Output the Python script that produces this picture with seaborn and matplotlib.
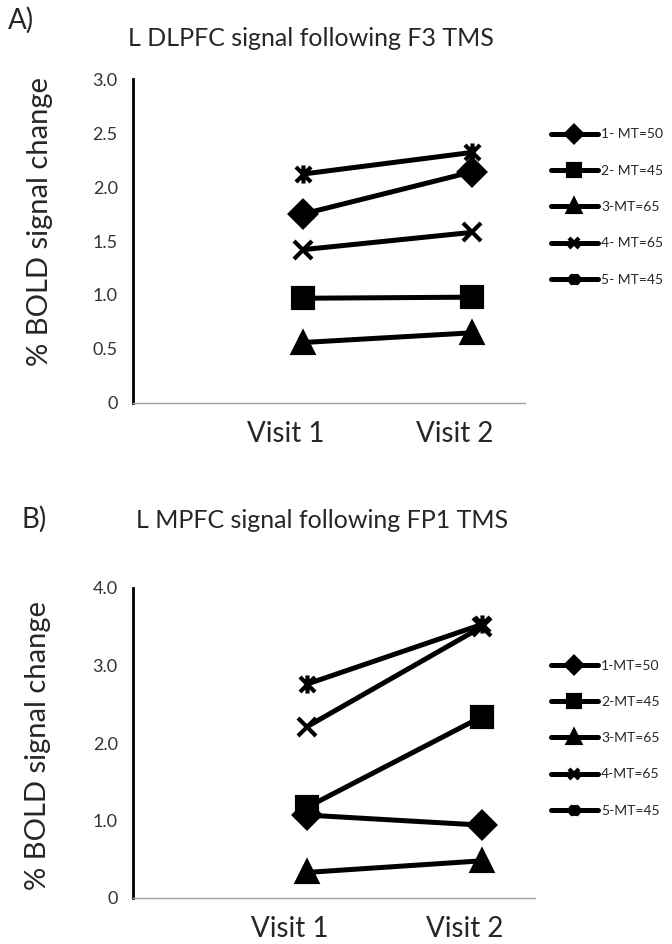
import numpy as np
import pandas as pd
import matplotlib.pyplot as plt
import seaborn as sns
from matplotlib.path import Path

# values
visits = ["Visit 1", "Visit 2"]
subjects_a = ["1- MT=50", "2- MT=45", "3-MT=65", "4- MT=65", "5- MT=45"]
subjects_b = ["1-MT=50", "2-MT=45", "3-MT=65", "4-MT=65", "5-MT=45"]
dlpfc_v1 = [1.75, 0.97, 0.56, 1.42, 2.12]
dlpfc_v2 = [2.14, 0.98, 0.65, 1.58, 2.32]
mpfc_v1 = [1.07, 1.17, 0.33, 2.21, 2.76]
mpfc_v2 = [0.94, 2.34, 0.48, 3.50, 3.53]

# Excel style "star": an x with a vertical bar through it
star = Path([(-1, -1), (1, 1), (-1, 1), (1, -1), (0, -1.2), (0, 1.2)],
            [Path.MOVETO, Path.LINETO, Path.MOVETO, Path.LINETO, Path.MOVETO, Path.LINETO])
markers = ["D", "s", "^", "x", star]
msizes = [13, 15, 15, 13, 13]

sns.set_style("white")
plt.rcParams["font.family"] = ["Lato", "DejaVu Sans"]


def long_df(subjects, v1, v2):
    rows = []
    for s, a, b in zip(subjects, v1, v2):
        rows.append({"visit": visits[0], "subject": s, "value": a})
        rows.append({"visit": visits[1], "subject": s, "value": b})
    return pd.DataFrame(rows)


def panel(fig, rect, xlim, df, subjects, ymax, yticks, ylabels, leg_top):
    ax = fig.add_axes(rect)
    sns.lineplot(data=df, x="visit", y="value", hue="subject",
                 hue_order=subjects, palette=["black"] * 5, marker="o",
                 linewidth=3.6, errorbar=None, legend=False, ax=ax)
    # seaborn won't mix filled and line-art markers, so set them per line
    for line, m, ms in zip(ax.lines, markers, msizes):
        line.set_marker(m)
        line.set_markersize(ms)
        line.set_markeredgecolor("black")
        line.set_markerfacecolor("black")
        line.set_markeredgewidth(3)
        line.set_color("black")
    ax.set_ylim(0, ymax)
    ax.set_yticks(yticks, ylabels)
    ax.tick_params(axis="y", length=0, labelsize=13, pad=11, colors="#333333")
    x0, x1 = xlim
    ax.set_xlim(x0, x1)
    ax.set_xticks(np.linspace(x0, x1, 6), [""] * 6)
    ax.set_xticks([-0.1, 0.9], visits, minor=True)
    ax.tick_params(axis="x", which="major", length=4, width=1, color="#a0a0a0", direction="out")
    ax.tick_params(axis="x", which="minor", length=0, labelsize=20, pad=13)
    ax.set_xlabel("")
    ax.set_ylabel("")
    for side in ["top", "right"]:
        ax.spines[side].set_visible(False)
    ax.spines["left"].set_color("black")
    ax.spines["left"].set_linewidth(2)
    ax.spines["bottom"].set_color("#a0a0a0")
    ax.spines["bottom"].set_linewidth(1)
    ax.legend(ax.lines[:5], subjects, markerscale=0.6, frameon=False,
              loc="upper left", bbox_to_anchor=(538 / 672, 1 - leg_top / 944),
              bbox_transform=fig.transFigure, fontsize=10, handlelength=3.4,
              labelspacing=1.75, handletextpad=0.25)
    return ax


fig = plt.figure(figsize=(6.72, 9.44), dpi=100)

df_a = long_df(subjects_a, dlpfc_v1, dlpfc_v2)
df_b = long_df(subjects_b, mpfc_v1, mpfc_v2)

rect_a = [133 / 672, 1 - 403 / 944, (525 - 133) / 672, (403 - 79) / 944]
ax_a = panel(fig, rect_a, (-1.006, 1.314), df_a, subjects_a, 3.0,
             [0, 0.5, 1.0, 1.5, 2.0, 2.5, 3.0],
             ["0", "0.5", "1.0", "1.5", "2.0", "2.5", "3.0"], 116)

rect_b = [133 / 672, 1 - 898 / 944, (535 - 133) / 672, (898 - 588) / 944]
ax_b = panel(fig, rect_b, (-0.994, 1.303), df_b, subjects_b, 4.0,
             [0, 1.0, 2.0, 3.0, 4.0], ["0", "1.0", "2.0", "3.0", "4.0"], 647)

fig.text(8 / 672, 1 - 20 / 944, "A)", fontsize=20, va="center")
fig.text(311 / 672, 1 - 38 / 944, "L DLPFC signal following F3 TMS",
         fontsize=18, ha="center", va="center")
fig.text(40 / 672, 1 - 222 / 944, "% BOLD signal change", fontsize=21,
         rotation=90, ha="center", va="center")

fig.text(22 / 672, 1 - 519 / 944, "B)", fontsize=20, va="center")
fig.text(322 / 672, 1 - 521 / 944, "L MPFC signal following FP1 TMS",
         fontsize=18, ha="center", va="center")
fig.text(38 / 672, 1 - 746 / 944, "% BOLD signal change", fontsize=21,
         rotation=90, ha="center", va="center")

fig.savefig("out.png", dpi=100)
